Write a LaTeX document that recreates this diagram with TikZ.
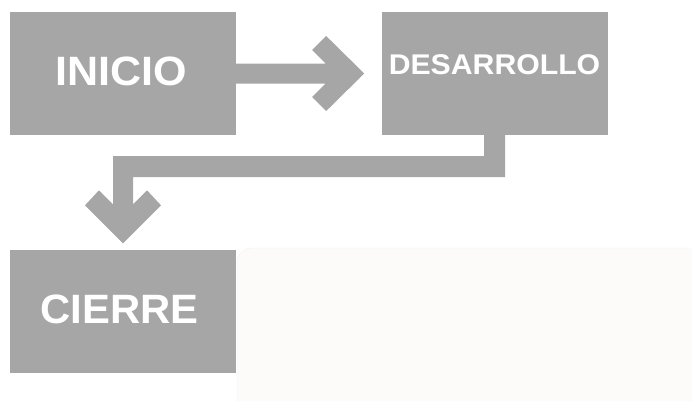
\documentclass[tikz,border=0pt]{standalone}
\usepackage{fontspec}
\setmainfont{Liberation Sans}
\usetikzlibrary{calc}
\definecolor{boxgray}{HTML}{A6A6A6}
\definecolor{panel}{HTML}{FCFBFA}
\definecolor{panelline}{HTML}{F4F0EE}
\begin{document}
\begin{tikzpicture}[x=1pt,y=-1pt,
  stepbox/.style={fill=boxgray,draw=none,minimum width=226pt,minimum height=123pt,inner sep=0pt},
  bigtxt/.style={text=white,font=\fontsize{41}{41}\selectfont\bfseries,inner sep=0pt},
  midtxt/.style={text=white,font=\fontsize{28.5}{28.5}\selectfont\bfseries,inner sep=0pt},
  blockarrow/.style={fill=boxgray,draw=none}]
\useasboundingbox (0,0) rectangle (692,400);
\fill[panel,draw=panelline,rounded corners=15pt] (237,248) rectangle (710,420);
\node[stepbox] (ini) at (123,73.5) {};
\node[stepbox] (des) at (494.5,73.5) {};
\node[stepbox] (cie) at (123,311) {};
\node[bigtxt] (inil) at ($(ini.center)+(-1.5,-2)$) {\scalebox{1.05}[1]{INICIO}};
\node[midtxt] (desl) at ($(des.center)+(0,-8.5)$) {\scalebox{1.06}[1]{DESARROLLO}};
\node[bigtxt] (ciel) at ($(cie.center)+(-3.5,-1.5)$) {\scalebox{1.02}[1]{CIERRE}};
% straight block arrow INICIO -> DESARROLLO
\fill[blockarrow] ($(ini.east)+(0,-10)$) -- ++(89.5,0) -- ++(-13.5,-13.5) -- ++(14,-14)
  -- ($(ini.east)+(128,0)$) -- ($(ini.east)+(90,37.5)$) -- ++(-14,-14) -- ++(13.5,-13.5)
  -- ($(ini.east)+(0,10)$) -- cycle;
% elbow block arrow DESARROLLO -> CIERRE
\coordinate (tip) at ($(cie.north)+(0,-6)$);
\fill[blockarrow] ($(des.south)+(10.5,0)$) -- ++(0,42) -- ($(ini.south)+(10,42)$)
  -- ($(tip)+(10,-39)$) -- ($(tip)+(24,-53)$) -- ($(tip)+(38,-38)$) -- (tip)
  -- ($(tip)+(-38,-38)$) -- ($(tip)+(-24,-53)$) -- ($(tip)+(-10,-39)$)
  -- ($(ini.south)+(-10,21)$) -- ($(des.south)+(-10.5,21)$) -- ($(des.south)+(-10.5,0)$) -- cycle;
\end{tikzpicture}
\end{document}
